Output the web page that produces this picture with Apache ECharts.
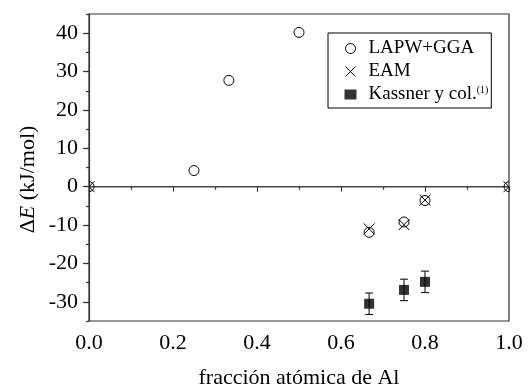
<!DOCTYPE html>
<html><head><meta charset="utf-8">
<script src="https://cdn.jsdelivr.net/npm/echarts@6/dist/echarts.min.js"></script>
<style>html,body{margin:0;padding:0;background:#fff}#c{width:528px;height:385px}</style>
</head><body><div id="c"></div>
<script>
// Data
const lapwX = [0, 0.25, 0.333, 0.5, 0.667, 0.75, 0.8, 1.0];
const lapwY = [0, 4.2, 27.7, 40.2, -11.9, -9.2, -3.6, 0];
const eamX = [0, 0.667, 0.75, 0.8, 1.0];
const eamY = [0, -11.0, -9.9, -3.5, 0];
const kasX = [0.667, 0.75, 0.8];
const kasY = [-30.5, -26.9, -24.8];
const kasErr = [2.8, 2.8, 2.8];
const yMajorTicks = [-30, -20, -10, 0, 10, 20, 30, 40];
const xTicks = [0, 0.2, 0.4, 0.6, 0.8, 1.0];

const font = 'Liberation Serif, Times New Roman, serif';
const axCol = '#333';

const chart = echarts.init(document.getElementById('c'), null, {renderer: 'canvas'});
const zip = (a, b) => a.map((v, i) => [v, b[i]]);

const circleItem = (params, api) => {
  const p = api.coord([api.value(0), api.value(1)]);
  return {type: 'circle', shape: {cx: p[0], cy: p[1], r: 5}, style: {fill: 'none', stroke: '#000', lineWidth: 1}};
};
const crossItem = (params, api) => {
  const p = api.coord([api.value(0), api.value(1)]);
  const h = 5.5, st = {stroke: '#000', lineWidth: 1};
  return {type: 'group', children: [
    {type: 'line', shape: {x1: p[0] - h, y1: p[1] - h, x2: p[0] + h, y2: p[1] + h}, style: st},
    {type: 'line', shape: {x1: p[0] + h, y1: p[1] - h, x2: p[0] - h, y2: p[1] + h}, style: st}
  ]};
};

chart.setOption({
  animation: false,
  backgroundColor: '#fff',
  grid: {left: 89, right: 19, top: 14, bottom: 64, show: true, borderColor: axCol, borderWidth: 1.2,
    containLabel: false, outerBoundsMode: 'none'},
  xAxis: {
    type: 'value', min: 0, max: 1, interval: 0.2,
    axisLine: {lineStyle: {color: axCol, width: 1.2}},
    axisTick: {length: 5, lineStyle: {color: axCol, width: 1.2}},
    minorTick: {show: true, splitNumber: 2, length: 3, lineStyle: {color: axCol, width: 1.2}},
    splitLine: {show: false},
    axisLabel: {color: '#000', fontFamily: font, fontSize: 22, margin: 11, formatter: v => v.toFixed(1)},
    name: 'fracción atómica de Al', nameLocation: 'middle', nameGap: 46,
    nameTextStyle: {color: '#000', fontFamily: font, fontSize: 22}
  },
  yAxis: [{
    type: 'value', min: -35, max: 45, interval: 5,
    axisLine: {show: true, lineStyle: {color: axCol, width: 1.2}},
    axisTick: {length: 3, lineStyle: {color: axCol, width: 1.2}},
    axisLabel: {show: false},
    splitLine: {show: false},
    name: '{a|Δ}{i|E}{a| (kJ/mol)}', nameLocation: 'middle', nameGap: 50, nameRotate: 90,
    nameTextStyle: {color: '#000', fontFamily: font, fontSize: 22, padding: [0, 24, 0, 0],
      rich: {a: {fontFamily: font, fontSize: 22, color: '#000'}, i: {fontFamily: font, fontSize: 22, fontStyle: 'italic', color: '#000'}}}
  }, {
    type: 'value', min: -35, max: 45, position: 'left', offset: 0,
    axisLine: {show: false},
    axisTick: {show: true, length: 6, customValues: yMajorTicks, lineStyle: {color: axCol, width: 1.2}},
    axisLabel: {color: '#000', fontFamily: font, fontSize: 22, margin: 11, customValues: yMajorTicks},
    splitLine: {show: false}
  }],
  legend: {
    orient: 'vertical', left: 328, top: 33,
    borderColor: '#000', borderWidth: 1, padding: [6, 3, 4, 15], itemGap: 4,
    itemWidth: 12, itemHeight: 10,
    data: [
      {name: 'LAPW+GGA', icon: 'path://M10,5A5,5,0,1,1,0,5A5,5,0,1,1,10,5Z', itemStyle: {color: 'none', borderColor: '#000', borderWidth: 1}},
      {name: 'EAM', icon: 'path://M0,0L10,10M10,0L0,10', itemStyle: {color: 'none', borderColor: '#000', borderWidth: 1}},
      {name: 'Kassner y col.', icon: 'rect', itemStyle: {color: '#000'}}
    ],
    textStyle: {color: '#000', fontFamily: font, fontSize: 19,
      rich: {n: {fontFamily: font, fontSize: 19, color: '#000', padding: [0, 0, 0, 7]},
             s: {fontFamily: font, fontSize: 10, color: '#000', verticalAlign: 'top', padding: [0, 0, 8, 0]}}},
    formatter: n => n === 'Kassner y col.' ? '{n|Kassner y col.}{s|(1)}' : '{n|' + n + '}'
  },
  series: [
    {
      type: 'line', data: [[0, 0], [1, 0]], symbol: 'none', silent: true,
      lineStyle: {color: '#444', width: 1.5}, z: 1
    },
    {
      name: 'LAPW+GGA', type: 'custom', clip: true, data: zip(lapwX, lapwY), renderItem: circleItem, z: 3,
      itemStyle: {color: 'none', borderColor: '#000', borderWidth: 1}
    },
    {
      name: 'EAM', type: 'custom', clip: true, data: zip(eamX, eamY), renderItem: crossItem, z: 4,
      itemStyle: {color: 'none', borderColor: '#000', borderWidth: 1}
    },
    {
      type: 'custom', data: kasX.map((x, i) => [x, kasY[i] - kasErr[i], kasY[i] + kasErr[i]]), z: 2,
      renderItem: (params, api) => {
        const lo = api.coord([api.value(0), api.value(1)]);
        const hi = api.coord([api.value(0), api.value(2)]);
        const w = 4;
        const st = {stroke: '#000', lineWidth: 1};
        return {type: 'group', children: [
          {type: 'line', shape: {x1: lo[0], y1: lo[1], x2: hi[0], y2: hi[1]}, style: st},
          {type: 'line', shape: {x1: lo[0] - w, y1: lo[1], x2: lo[0] + w, y2: lo[1]}, style: st},
          {type: 'line', shape: {x1: hi[0] - w, y1: hi[1], x2: hi[0] + w, y2: hi[1]}, style: st}
        ]};
      }
    },
    {
      name: 'Kassner y col.', type: 'scatter', data: zip(kasX, kasY), symbol: 'rect', symbolSize: 10,
      itemStyle: {color: '#000'}, z: 5
    }
  ]
});
</script></body></html>
